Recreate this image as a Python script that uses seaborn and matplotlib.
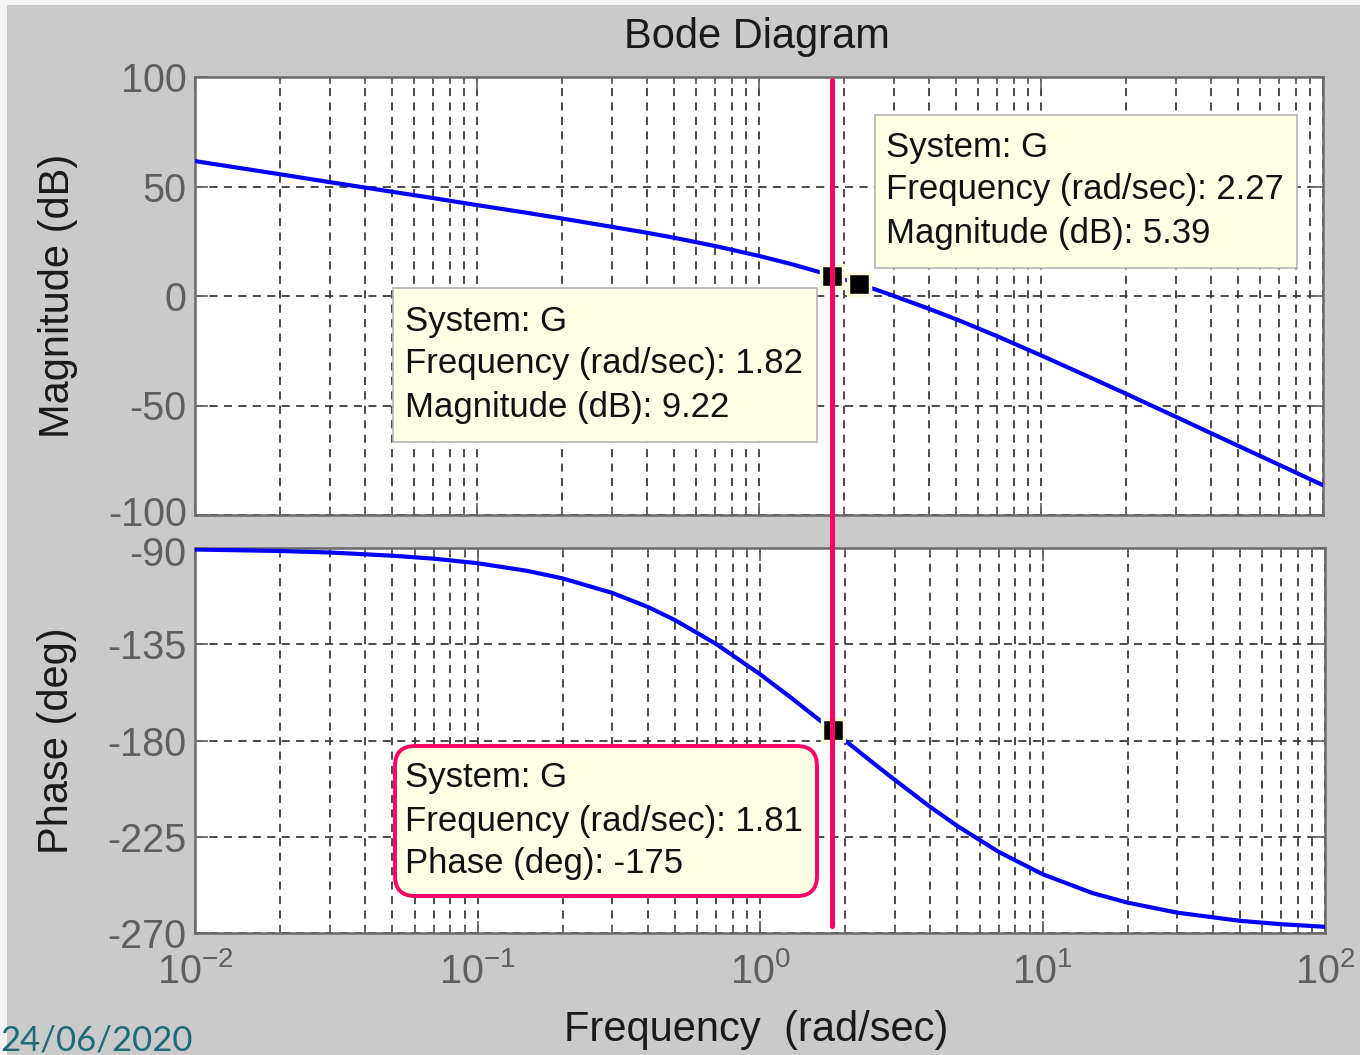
import numpy as np
import pandas as pd
import matplotlib
matplotlib.use("Agg")
import matplotlib.pyplot as plt
import matplotlib.transforms as mtransforms
from matplotlib.patches import Rectangle, FancyBboxPatch
from matplotlib.lines import Line2D
from matplotlib.ticker import LogLocator, FixedLocator, FixedFormatter, NullFormatter
import seaborn as sns

freq = [0.01, 0.02, 0.03, 0.05, 0.07, 0.1, 0.15, 0.2, 0.3, 0.4, 0.5, 0.7, 1.0,
        1.3, 1.6, 1.82, 2.0, 2.27, 2.6, 3.0, 4.0, 5.0, 7.0, 10.0, 15.0, 20.0,
        30.0, 50.0, 70.0, 100.0]
mag_db = [61.6, 55.6, 52.0, 47.6, 44.7, 41.5, 38.0, 35.4, 31.6, 28.9, 26.6, 22.8,
          18.3, 14.6, 11.3, 9.22, 7.6, 5.39, 2.9, 0.1, -5.8, -10.6, -18.4, -27.1,
          -37.3, -44.6, -55.1, -68.4, -77.1, -86.4]
phase_deg = [-90.7, -91.4, -92.1, -93.6, -95.0, -97.1, -100.7, -104.2, -111.0,
             -117.5, -123.7, -134.9, -149.0, -160.4, -169.8, -175.7, -180.0,
             -185.8, -192.0, -198.4, -211.0, -220.0, -232.1, -242.5, -251.3,
             -255.8, -260.5, -264.3, -265.9, -267.1]

mag_ticks = [-100, -50, 0, 50, 100]
phase_ticks = [-270, -225, -180, -135, -90]
x_ticks = [0.01, 0.1, 1, 10, 100]
x_ticklabels = [r"$\mathregular{10^{-2}}$", r"$\mathregular{10^{-1}}$",
                r"$\mathregular{10^{0}}$", r"$\mathregular{10^{1}}$",
                r"$\mathregular{10^{2}}$"]

# data tips: (frequency, value)
tip_mag_right = (2.27, 5.39)
tip_mag_left = (1.82, 9.22)
tip_phase = (1.81, -175)
cursor_freq = 1.82

df_mag = pd.DataFrame({"freq": freq, "mag": mag_db})
df_ph = pd.DataFrame({"freq": freq, "phase": phase_deg})

sns.set_style("ticks")
plt.rcParams["font.family"] = ["Liberation Sans", "DejaVu Sans"]
plt.rcParams["mathtext.fontset"] = "custom"
plt.rcParams["mathtext.rm"] = "Liberation Sans"
plt.rcParams["axes.unicode_minus"] = False

W, H, DPI = 1360, 1055, 100
BG = "#cacaca"
TICK_C = "#5f5f5f"
SPINE_C = "#6a6a6a"
GRID_C = "#3c3c3c"
CURVE_C = "#0000ff"
PINK = "#ff0066"
TIP_BG = "#ffffe6"

fig = plt.figure(figsize=(W / DPI, H / DPI), dpi=DPI, facecolor=BG)

def fx(x):
    return x / W

def fy(y):
    return 1 - y / H

ax1 = fig.add_axes([fx(195), fy(515), (1323 - 195) / W, (515 - 77) / H])
ax2 = fig.add_axes([fx(195), fy(933), (1325 - 195) / W, (933 - 548) / H])

sns.lineplot(data=df_mag, x="freq", y="mag", ax=ax1, color=CURVE_C, lw=3, zorder=3)
sns.lineplot(data=df_ph, x="freq", y="phase", ax=ax2, color=CURVE_C, lw=3, zorder=3)

for ax, yt in ((ax1, mag_ticks), (ax2, phase_ticks)):
    ax.set_facecolor("white")
    ax.set_xscale("log")
    ax.set_xlim(0.01, 100)
    ax.set_ylim(yt[0], yt[-1])
    ax.set_yticks(yt)
    ax.xaxis.set_major_locator(FixedLocator(x_ticks))
    ax.xaxis.set_minor_locator(LogLocator(base=10, subs=np.arange(2, 10), numticks=20))
    ax.xaxis.set_minor_formatter(NullFormatter())
    ax.tick_params(axis="both", which="both", direction="in", top=True, right=True,
                   color=SPINE_C, labelcolor=TICK_C, labelsize=28.5)
    ax.tick_params(axis="both", which="major", length=9, width=1.3)
    ax.tick_params(axis="x", which="minor", length=5, width=1.3)
    ax.tick_params(axis="y", pad=6)
    ax.tick_params(axis="x", pad=14)
    ax.grid(True, which="major", axis="both", color=GRID_C, lw=1.3, ls=(0, (4.5, 3.5)))
    ax.grid(True, which="minor", axis="x", color=GRID_C, lw=1.3, ls=(0, (4.5, 3.5)))
    for s in ax.spines.values():
        s.set_color(SPINE_C)
        s.set_linewidth(1.8)
    ax.set_xlabel("")
    ax.set_ylabel("")

ax1.xaxis.set_major_formatter(NullFormatter())
ax2.xaxis.set_major_formatter(FixedFormatter(x_ticklabels))

ax1.set_ylabel("Magnitude (dB)", fontsize=30, color="#1a1a1a")
ax1.yaxis.set_label_coords(-0.104, 0.5)
ax2.set_ylabel("Phase (deg)", fontsize=30, color="#1a1a1a")
ax2.yaxis.set_label_coords(-0.104, 0.5)
ax2.set_xlabel("Frequency  (rad/sec)", fontsize=30, color="#1a1a1a")
ax2.xaxis.set_label_coords(0.497, -0.2)

# keep the touching "-100" / "-90" labels apart a little
fig.canvas.draw()
lbl_lo = ax1.yaxis.get_major_ticks()[0].label1
lbl_lo.set_transform(lbl_lo.get_transform()
                     + mtransforms.ScaledTranslation(0, 4 / DPI, fig.dpi_scale_trans))
lbl_hi = ax2.yaxis.get_major_ticks()[-1].label1
lbl_hi.set_transform(lbl_hi.get_transform()
                     + mtransforms.ScaledTranslation(0, -3 / DPI, fig.dpi_scale_trans))

fig.text(fx(757), fy(37), "Bode Diagram", fontsize=30, color="#1a1a1a",
         ha="center", va="center")

# data tip markers
mk = dict(marker="s", s=260, color="black", edgecolor="#fffbe0", linewidth=2.5,
          zorder=6, clip_on=False)
sns.scatterplot(x=[tip_mag_left[0], tip_mag_right[0]],
                y=[tip_mag_left[1], tip_mag_right[1]], ax=ax1, **mk)
sns.scatterplot(x=[tip_phase[0]], y=[tip_phase[1]], ax=ax2, **mk)

# data tip boxes (pixel positions, drawn in inches)
def box(x0, y0, x1, y1, edge, lw, rounded=False):
    if rounded:
        p = FancyBboxPatch((x0 / DPI, (H - y1) / DPI), (x1 - x0) / DPI, (y1 - y0) / DPI,
                           boxstyle="round,pad=0,rounding_size=0.2",
                           transform=fig.dpi_scale_trans, facecolor=TIP_BG,
                           edgecolor=edge, lw=lw, zorder=4)
    else:
        p = Rectangle((x0 / DPI, (H - y1) / DPI), (x1 - x0) / DPI, (y1 - y0) / DPI,
                      transform=fig.dpi_scale_trans, facecolor=TIP_BG,
                      edgecolor=edge, lw=lw, zorder=4)
    fig.add_artist(p)

def tip_lines(x, ys, lines):
    for y, s in zip(ys, lines):
        fig.text(fx(x), fy(y), s, fontsize=25, color="#111111", ha="left",
                 va="center", zorder=5)

box(875, 115, 1297, 268, "#b4b4b4", 1.2)
tip_lines(886, [148, 190, 233],
          ["System: G", f"Frequency (rad/sec): {tip_mag_right[0]:.2f}",
           f"Magnitude (dB): {tip_mag_right[1]:.2f}"])

box(393, 288, 817, 442, "#b4b4b4", 1.2)
tip_lines(405, [322, 364, 407],
          ["System: G", f"Frequency (rad/sec): {tip_mag_left[0]:.2f}",
           f"Magnitude (dB): {tip_mag_left[1]:.2f}"])

box(395, 746, 817, 896, PINK, 2.8, rounded=True)
tip_lines(405, [778, 821, 863],
          ["System: G", f"Frequency (rad/sec): {tip_phase[0]:.2f}",
           f"Phase (deg): {tip_phase[1]:.0f}"])

# cursor line across both axes
blend = mtransforms.blended_transform_factory(ax1.transData, fig.transFigure)
fig.add_artist(Line2D([cursor_freq, cursor_freq], [fy(926), fy(80)], transform=blend,
                      color=PINK, lw=3.6, zorder=7))

# light page edges
fig.add_artist(Rectangle((0, 0), fx(7), 1, transform=fig.transFigure,
                         facecolor="#f4f4f4", edgecolor="none", zorder=0))
fig.add_artist(Rectangle((0, fy(5)), 1, fy(0) - fy(5), transform=fig.transFigure,
                         facecolor="#f4f4f4", edgecolor="none", zorder=0))

fig.text(0, fy(1040), "24/06/2020", fontsize=25, color="#1d6b78", family="Lato",
         ha="left", va="center", zorder=8)

fig.savefig("out.png", dpi=DPI, facecolor=BG)
